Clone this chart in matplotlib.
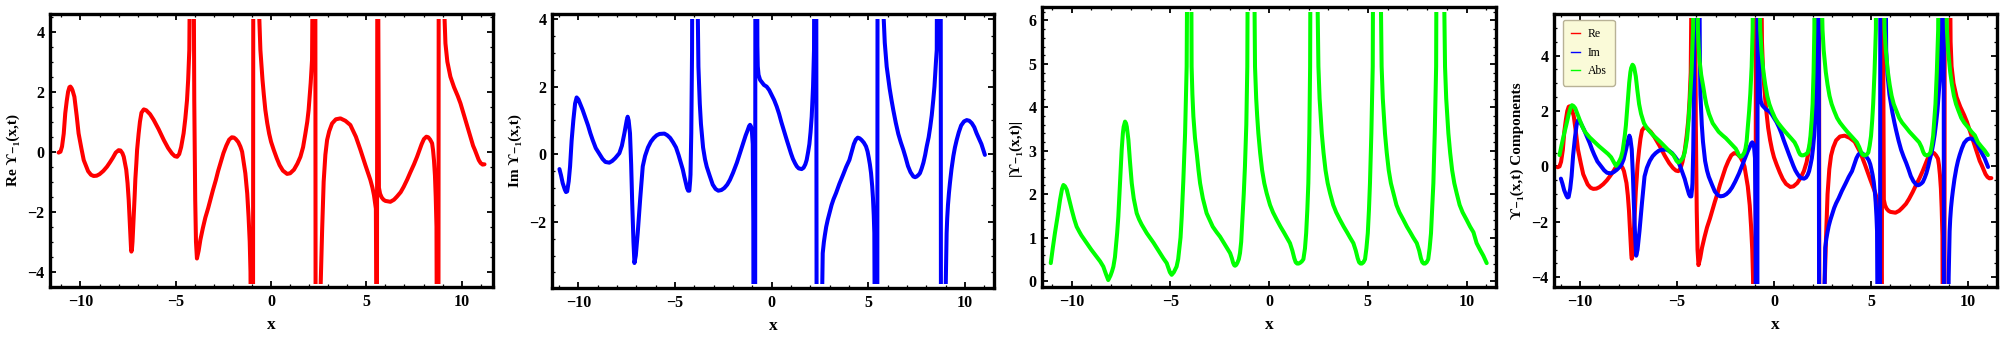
import matplotlib
matplotlib.use("Agg")
import matplotlib.pyplot as plt
from matplotlib.patches import Rectangle
from matplotlib.ticker import MultipleLocator, FixedLocator

# ---------------- data ----------------
re_x = [-11.15, -11.05, -10.97, -10.88, -10.8, -10.72, -10.65, -10.58, -10.53, -10.47, -10.42, -10.32,
        -10.2, -10.1, -9.95, -9.83, -9.6, -9.45, -9.31, -9.15, -9.0, -8.8, -8.61, -8.45, -8.3,
        -8.15, -8.0, -7.9, -7.8, -7.73, -7.6, -7.53, -7.47, -7.42, -7.38, -7.35, -7.33, -7.3,
        -7.27, -7.24, -7.21, -7.16, -7.12, -7.07, -7.03, -6.95, -6.88, -6.8, -6.68, -6.55, -6.35,
        -6.16, -5.9, -5.63, -5.4, -5.2, -5.05, -4.93, -4.82, -4.72, -4.59, -4.5, -4.41, -4.35,
        -4.29, -4.22, -4.08, -4.03, -3.98, -3.94, -3.89, -3.8, -3.71, -3.58, -3.45, -3.3, -3.19,
        -3.05, -2.9, -2.78, -2.66, -2.5, -2.35, -2.2, -2.06, -1.95, -1.85, -1.72, -1.61, -1.52,
        -1.45, -1.35, -1.25, -1.18, -1.12, -1.08, -1.03, -0.95, -0.93, -0.68, -0.62, -0.56, -0.5,
        -0.45, -0.38, -0.3, -0.2, -0.1, 0.0, 0.14, 0.3, 0.45, 0.62, 0.84, 1.0, 1.2, 1.38,
        1.54, 1.68, 1.8, 1.9, 1.97, 2.08, 2.15, 2.22, 2.32, 2.34, 2.5, 2.6, 2.68, 2.76,
        2.85, 2.94, 3.05, 3.2, 3.4, 3.64, 3.9, 4.16, 4.45, 4.69, 4.95, 5.21, 5.32, 5.4,
        5.5, 5.55, 5.58, 5.6, 5.66, 5.72, 5.8, 5.9, 6.0, 6.26, 6.45, 6.6, 6.8, 6.96,
        7.15, 7.3, 7.5, 7.66, 7.8, 7.9, 8.02, 8.15, 8.25, 8.35, 8.45, 8.5, 8.55, 8.6,
        8.64, 8.68, 8.71, 8.78, 8.8, 9.05, 9.1, 9.15, 9.25, 9.41, 9.6, 9.8, 9.94, 10.2,
        10.46, 10.6, 10.7, 10.8, 10.9, 11.0, 11.1, 11.2]
re_y = [-0.03, 0.0, 0.17, 0.6, 1.28, 1.7, 2.0, 2.15, 2.17, 2.12, 2.05, 1.83,
        1.2, 0.61, 0.1, -0.28, -0.65, -0.77, -0.81, -0.8, -0.75, -0.64, -0.5, -0.35, -0.2,
        -0.03, 0.05, 0.04, -0.05, -0.17, -0.6, -1.05, -1.61, -2.3, -2.8, -3.2, -3.33, -3.25,
        -3.0, -2.6, -2.17, -1.5, -0.9, -0.4, 0.06, 0.6, 1.0, 1.3, 1.41, 1.38, 1.25,
        1.06, 0.75, 0.39, 0.12, -0.06, -0.15, -0.17, -0.08, 0.15, 0.61, 1.1, 1.72, 2.4,
        3.39, 9, 9, 1.72, -1.61, -3.0, -3.56, -3.3, -2.94, -2.55, -2.2, -1.88, -1.61,
        -1.28, -0.95, -0.65, -0.39, -0.05, 0.2, 0.4, 0.48, 0.47, 0.42, 0.32, 0.17, 0.0,
        -0.3, -0.72, -1.4, -2.17, -3.0, -4.0, -9, -9, 9, 9, 4.5, 3.39, 2.85,
        2.4, 1.9, 1.39, 0.95, 0.6, 0.33, 0.06, -0.22, -0.45, -0.63, -0.74, -0.72, -0.6, -0.4,
        -0.17, 0.15, 0.6, 1.0, 1.39, 2.3, 3.06, 9, 9, -9, -9, -4.5, -2.6, -1.0,
        -0.1, 0.39, 0.68, 0.94, 1.08, 1.11, 1.03, 0.89, 0.5, 0.06, -0.45, -0.94, -1.2, -1.45,
        -1.9, -9, 9, 9, -1.2, -1.4, -1.52, -1.6, -1.64, -1.67, -1.6, -1.5, -1.35, -1.17,
        -0.92, -0.7, -0.42, -0.17, 0.07, 0.25, 0.42, 0.5, 0.48, 0.4, 0.28, 0.05, -0.3, -0.8,
        -1.5, -2.5, -9, -9, 9, 9, 4.5, 3.61, 3.0, 2.5, 2.15, 1.85, 1.61, 1.05,
        0.5, 0.2, 0.05, -0.12, -0.28, -0.38, -0.43, -0.42]

im_x = [-10.98, -10.9, -10.81, -10.7, -10.64, -10.58, -10.5, -10.43, -10.35, -10.26, -10.17, -10.09,
        -10.0, -9.9, -9.78, -9.64, -9.5, -9.38, -9.26, -9.1, -8.9, -8.75, -8.6, -8.4, -8.25,
        -8.1, -7.98, -7.88, -7.75, -7.62, -7.55, -7.5, -7.45, -7.4, -7.33, -7.27, -7.22, -7.15,
        -7.1, -7.03, -6.93, -6.8, -6.67, -6.55, -6.4, -6.25, -6.1, -5.95, -5.8, -5.55, -5.4,
        -5.25, -5.1, -4.95, -4.82, -4.7, -4.6, -4.52, -4.44, -4.38, -4.32, -4.26, -4.22, -4.2,
        -4.16, -4.12, -4.09, -3.86, -3.82, -3.79, -3.72, -3.66, -3.55, -3.45, -3.36, -3.2, -3.05,
        -2.9, -2.76, -2.6, -2.45, -2.3, -2.16, -2.0, -1.8, -1.63, -1.47, -1.35, -1.25, -1.17,
        -1.12, -1.07, -1.03, -0.98, -0.95, -0.93, -0.86, -0.84, -0.77, -0.74, -0.72, -0.68, -0.6,
        -0.4, -0.26, -0.13, 0.0, 0.13, 0.26, 0.38, 0.5, 0.64, 0.78, 0.9, 1.0, 1.1, 1.21,
        1.3, 1.4, 1.55, 1.65, 1.74, 1.81, 1.88, 1.95, 2.01, 2.07, 2.14, 2.19, 2.22, 2.3,
        2.33, 2.55, 2.6, 2.64, 2.7, 2.75, 2.82, 2.9, 3.0, 3.1, 3.2, 3.33, 3.5, 3.7,
        3.85, 4.02, 4.15, 4.25, 4.35, 4.45, 4.55, 4.65, 4.77, 4.88, 4.96, 5.02, 5.08, 5.14,
        5.2, 5.24, 5.28, 5.31, 5.36, 5.46, 5.48, 5.74, 5.78, 5.85, 5.95, 6.1, 6.2, 6.29,
        6.42, 6.55, 6.68, 6.81, 6.93, 7.05, 7.18, 7.33, 7.42, 7.5, 7.6, 7.67, 7.76, 7.85,
        7.94, 8.02, 8.12, 8.2, 8.28, 8.36, 8.42, 8.46, 8.5, 8.54, 8.57, 8.74, 8.76, 8.95,
        9.0, 9.05, 9.08, 9.12, 9.17, 9.22, 9.3, 9.4, 9.48, 9.57, 9.68, 9.8, 9.95, 10.09,
        10.22, 10.35, 10.48, 10.6, 10.72, 10.85, 10.95, 11.03]
im_y = [-0.44, -0.62, -0.86, -1.05, -1.12, -1.1, -0.8, -0.36, 0.4, 1.01, 1.5, 1.68,
        1.62, 1.48, 1.31, 1.08, 0.85, 0.62, 0.42, 0.18, 0.0, -0.14, -0.23, -0.25, -0.2,
        -0.12, -0.04, 0.03, 0.25, 0.62, 0.85, 1.0, 1.11, 1.0, 0.62, -0.3, -1.35, -2.6,
        -3.22, -3.0, -2.33, -1.3, -0.36, -0.05, 0.2, 0.37, 0.48, 0.56, 0.6, 0.61, 0.56,
        0.48, 0.35, 0.2, -0.02, -0.25, -0.45, -0.66, -0.85, -1.0, -1.08, -1.08, -0.8, -0.6,
        0.62, 3.0, 9, 9, 4.0, 2.59, 1.5, 0.9, 0.2, -0.15, -0.37, -0.65, -0.9,
        -1.03, -1.08, -1.06, -1.0, -0.9, -0.76, -0.55, -0.25, 0.05, 0.33, 0.55, 0.7, 0.83,
        0.87, 0.82, 0.72, 0.3, -2.0, -9, -9, 9, 9, 3.2, 2.6, 2.35, 2.2,
        2.05, 2.0, 1.9, 1.75, 1.6, 1.41, 1.2, 0.95, 0.68, 0.42, 0.2, 0.02, -0.14, -0.27,
        -0.36, -0.42, -0.44, -0.4, -0.3, -0.17, 0.05, 0.3, 0.65, 1.11, 2.0, 3.09, 9, 9,
        -9, -9, -4.5, -2.93, -2.6, -2.4, -2.15, -1.94, -1.72, -1.5, -1.33, -1.15, -0.88, -0.6,
        -0.38, -0.17, 0.1, 0.3, 0.43, 0.49, 0.47, 0.42, 0.34, 0.23, 0.08, -0.1, -0.3, -0.56,
        -0.95, -1.3, -1.8, -2.33, -9, -9, 9, 9, 4.2, 3.3, 2.59, 1.95, 1.6, 1.31,
        0.93, 0.6, 0.35, 0.13, -0.1, -0.35, -0.53, -0.66, -0.68, -0.66, -0.61, -0.56, -0.42, -0.25,
        -0.02, 0.23, 0.5, 0.8, 1.15, 1.61, 2.0, 2.4, 2.75, 3.09, 9, 9, -9, -9,
        -4.0, -2.34, -1.9, -1.5, -1.15, -0.86, -0.45, -0.05, 0.2, 0.42, 0.65, 0.85, 0.97, 1.01,
        0.99, 0.92, 0.8, 0.62, 0.47, 0.3, 0.12, -0.02]

abs_x = [-11.05, -10.95, -10.84, -10.7, -10.58, -10.48, -10.41, -10.33, -10.24, -10.12, -9.99, -9.86,
         -9.74, -9.6, -9.5, -9.23, -9.0, -8.73, -8.55, -8.39, -8.25, -8.14, -8.03, -7.95, -7.88,
         -7.8, -7.75, -7.69, -7.63, -7.55, -7.46, -7.4, -7.36, -7.29, -7.24, -7.2, -7.12, -7.04,
         -6.95, -6.85, -6.7, -6.58, -6.45, -6.19, -5.85, -5.52, -5.35, -5.18, -5.08, -5.02, -4.93,
         -4.82, -4.68, -4.6, -4.55, -4.48, -4.42, -4.34, -4.25, -4.17, -4.12, -3.95, -3.92, -3.88,
         -3.83, -3.75, -3.65, -3.57, -3.49, -3.35, -3.16, -3.0, -2.85, -2.65, -2.48, -2.25, -1.97,
         -1.88, -1.82, -1.76, -1.72, -1.66, -1.6, -1.53, -1.47, -1.41, -1.35, -1.28, -1.22, -1.15,
         -1.1, -1.06, -0.78, -0.71, -0.65, -0.6, -0.54, -0.45, -0.35, -0.24, -0.12, 0.05, 0.2,
         0.39, 0.58, 0.75, 0.9, 1.06, 1.18, 1.28, 1.35, 1.42, 1.5, 1.58, 1.66, 1.74, 1.82,
         1.88, 1.94, 1.99, 2.04, 2.08, 2.11, 2.38, 2.5, 2.56, 2.62, 2.67, 2.76, 2.86, 2.97,
         3.09, 3.25, 3.4, 3.59, 3.78, 3.95, 4.1, 4.27, 4.39, 4.49, 4.56, 4.63, 4.7, 4.78,
         4.86, 4.93, 5.0, 5.06, 5.11, 5.18, 5.25, 5.28, 5.6, 5.7, 5.76, 5.82, 5.87, 5.96,
         6.06, 6.17, 6.3, 6.45, 6.6, 6.8, 6.98, 7.15, 7.3, 7.48, 7.6, 7.69, 7.76, 7.83,
         7.9, 7.98, 8.06, 8.13, 8.2, 8.26, 8.32, 8.39, 8.46, 8.49, 8.8, 8.91, 8.97, 9.03,
         9.08, 9.17, 9.27, 9.38, 9.5, 9.65, 9.8, 10.0, 10.18, 10.35, 10.51, 10.68, 10.85, 11.02]
abs_y = [0.41, 0.75, 1.1, 1.5, 1.87, 2.12, 2.21, 2.18, 2.1, 1.88, 1.64, 1.42,
         1.25, 1.13, 1.05, 0.87, 0.72, 0.56, 0.45, 0.33, 0.15, 0.02, 0.12, 0.22, 0.33,
         0.55, 0.8, 1.1, 1.48, 2.2, 3.02, 3.4, 3.55, 3.67, 3.63, 3.55, 3.25, 2.75,
         2.25, 1.9, 1.56, 1.42, 1.3, 1.1, 0.88, 0.64, 0.52, 0.41, 0.28, 0.2, 0.14,
         0.2, 0.33, 0.5, 0.7, 1.0, 1.48, 2.3, 3.4, 4.94, 9, 9, 4.94, 4.3,
         3.79, 3.3, 2.9, 2.55, 2.25, 1.9, 1.56, 1.4, 1.25, 1.12, 1.02, 0.85, 0.64,
         0.52, 0.42, 0.36, 0.35, 0.37, 0.42, 0.5, 0.64, 0.9, 1.4, 2.0, 2.63, 3.6,
         4.94, 9, 9, 4.94, 4.2, 3.8, 3.4, 2.95, 2.55, 2.25, 2.02, 1.75, 1.58,
         1.41, 1.25, 1.12, 1.0, 0.87, 0.7, 0.52, 0.43, 0.4, 0.4, 0.42, 0.45, 0.5, 0.75,
         1.1, 1.65, 2.25, 3.4, 4.94, 9, 9, 4.94, 4.2, 3.75, 3.4, 2.95, 2.55, 2.25,
         2.02, 1.75, 1.58, 1.41, 1.25, 1.12, 1.0, 0.87, 0.7, 0.52, 0.43, 0.4, 0.4, 0.43,
         0.5, 0.75, 1.1, 1.65, 2.25, 3.4, 4.94, 9, 9, 4.94, 4.2, 3.75, 3.4, 2.95,
         2.55, 2.25, 2.02, 1.75, 1.58, 1.41, 1.25, 1.12, 1.0, 0.87, 0.7, 0.52, 0.43, 0.4,
         0.4, 0.43, 0.5, 0.75, 1.1, 1.65, 2.25, 3.4, 4.94, 9, 9, 4.94, 4.2, 3.75,
         3.4, 2.95, 2.55, 2.25, 2.02, 1.75, 1.58, 1.41, 1.25, 1.12, 0.87, 0.72, 0.58, 0.41]

x_ticks = [-10, -5, 0, 5, 10]
legend_labels = ["Re", "Im", "Abs"]
ylabels = ["Re ϒ₋₁(x,t)", "Im ϒ₋₁(x,t)", "|ϒ₋₁(x,t)|", "ϒ₋₁(x,t) Components"]

# ---------------- styling ----------------
RED, BLUE, GREEN = "#ff0000", "#0000ff", "#00ff00"
SERIF = ["Liberation Serif", "DejaVu Serif"]
plt.rcParams["font.family"] = SERIF
plt.rcParams["font.weight"] = "bold"
plt.rcParams["axes.unicode_minus"] = True

fig = plt.figure(figsize=(20.04, 3.38), dpi=100)

panels = [
    dict(rect=[0.02495, 0.1509, 0.2211, 0.8077], xlim=(-11.6, 11.65), ylim=(-4.51, 4.59),
         clip=(-4.42, 4.42), yticks=[-4, -2, 0, 2, 4], yminor=0.5,
         series=[(re_x, re_y, RED)]),
    dict(rect=[0.2754, 0.1479, 0.2206, 0.8107], xlim=(-11.37, 11.5), ylim=(-3.96, 4.15),
         clip=(-3.84, 4.0), yticks=[-2, 0, 2, 4], yminor=0.5,
         series=[(im_x, im_y, BLUE)]),
    dict(rect=[0.5200, 0.1509, 0.2265, 0.8284], xlim=(-11.49, 11.49), ylim=(-0.14, 6.31),
         clip=(-0.12, 6.2), yticks=[0, 1, 2, 3, 4, 5, 6], yminor=0.2,
         series=[(abs_x, abs_y, GREEN)]),
    dict(rect=[0.7754, 0.1509, 0.2211, 0.8077], xlim=(-11.34, 11.49), ylim=(-4.35, 5.5),
         clip=(-4.24, 5.35), yticks=[-4, -2, 0, 2, 4], yminor=0.5,
         series=[(re_x, re_y, RED), (im_x, im_y, BLUE), (abs_x, abs_y, GREEN)]),
]

for i, p in enumerate(panels):
    ax = fig.add_axes(p["rect"])
    ax.set_xlim(*p["xlim"])
    ax.set_ylim(*p["ylim"])
    for xs, ys, col in p["series"]:
        ln, = ax.plot(xs, ys, color=col, lw=2.9, solid_joinstyle="round",
                      solid_capstyle="round")
        clip_rect = Rectangle((p["xlim"][0], p["clip"][0]), p["xlim"][1] - p["xlim"][0],
                              p["clip"][1] - p["clip"][0], transform=ax.transData,
                              facecolor="none", edgecolor="none")
        ln.set_clip_path(clip_rect)
    for s in ax.spines.values():
        s.set_linewidth(2.4)
        s.set_color("black")
    ax.xaxis.set_major_locator(FixedLocator(x_ticks))
    ax.xaxis.set_minor_locator(MultipleLocator(1))
    ax.yaxis.set_major_locator(FixedLocator(p["yticks"]))
    ax.yaxis.set_minor_locator(MultipleLocator(p["yminor"]))
    ax.tick_params(which="both", direction="in", top=True, right=True, color="black")
    ax.tick_params(which="major", length=4.5, width=1.3)
    ax.tick_params(which="minor", length=2.2, width=0.9)
    ax.tick_params(axis="x", which="major", pad=5, labelsize=11.5)
    ax.tick_params(axis="y", which="major", pad=4, labelsize=11.5)
    for lab in ax.get_xticklabels() + ax.get_yticklabels():
        lab.set_fontweight("bold")
    ax.set_xlabel("x", fontsize=12.5, fontweight="bold", labelpad=5)
    ax.set_ylabel(ylabels[i], fontsize=11, fontweight="bold", labelpad=5)
    if i == 3:
        handles = [plt.Line2D([], [], color=c, lw=1.0) for c in (RED, BLUE, GREEN)]
        leg = ax.legend(handles, legend_labels, loc="upper left",
                        bbox_to_anchor=(0.02, 0.978), borderaxespad=0,
                        fancybox=True, framealpha=1, handlelength=0.8, handletextpad=0.6,
                        labelspacing=0.55, borderpad=0.7,
                        prop={"family": SERIF, "size": 8.5, "weight": "normal"})
        fr = leg.get_frame()
        fr.set_facecolor("#fafad8")
        fr.set_edgecolor("#b8b296")
        fr.set_linewidth(1.0)

fig.savefig("out.png", dpi=100, facecolor="white")
